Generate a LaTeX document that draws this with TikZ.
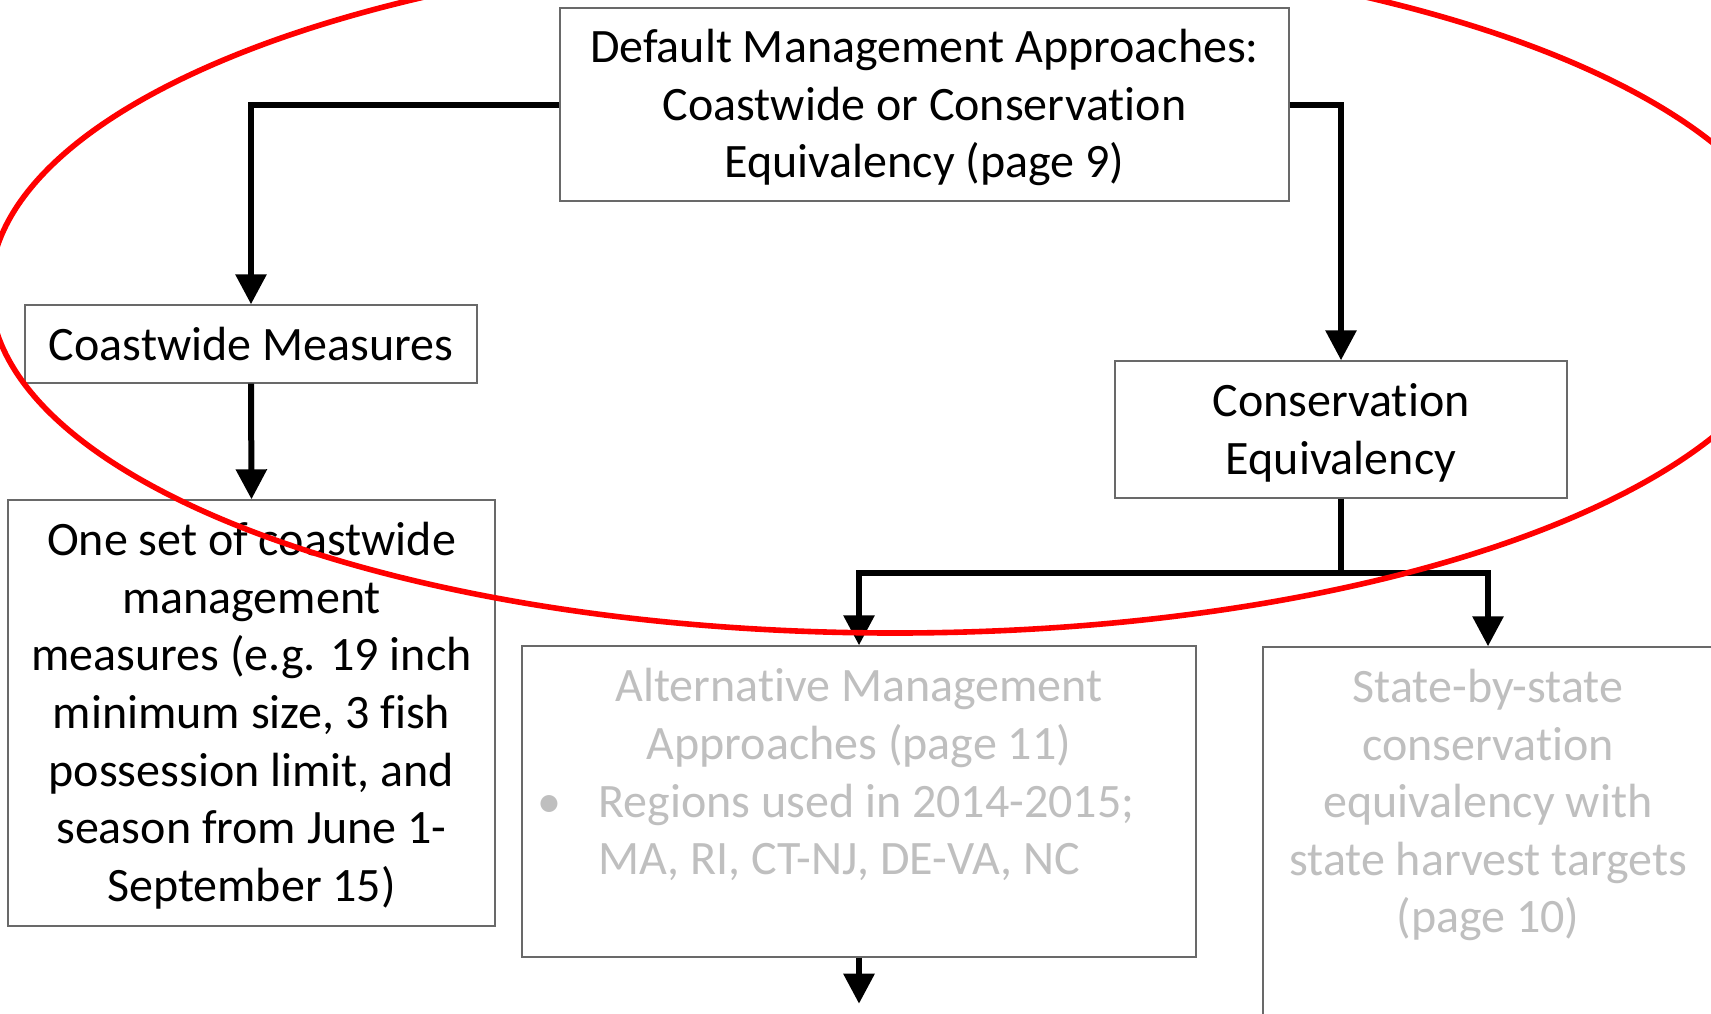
\documentclass[tikz,border=0pt]{standalone}
\usepackage{fontspec}
\setmainfont{Carlito}[Ligatures={NoCommon,NoContextual,NoRequired,NoRare}, Contextuals=NoAlternate]
\usetikzlibrary{arrows.meta,positioning}
\definecolor{boxline}{RGB}{105,105,105}
\definecolor{fadecol}{RGB}{191,191,191}
\newcommand{\nolig}{\kern0pt}
\tikzset{
	box/.style={draw=boxline, line width=0.7pt, inner sep=0pt},
	boxtext/.style={inner sep=0pt, align=center, anchor=base, font=\fontsize{24}{28.8}\selectfont},
	fadetext/.style={boxtext, text=fadecol},
	link/.style={line width=3pt, -{Triangle[width=15pt,length=15pt]}},
}
\begin{document}
\begin{tikzpicture}[x=0.5pt,y=-0.5pt]
		\useasboundingbox (0,0) rectangle (1711,1013);
		\clip (0,0) rectangle (1711,1013);
		\fill[white] (0,0) rectangle (1711,1013);
		\node[box, minimum width=364.5pt, minimum height=96.5pt] (default) at (924.5,104.5) {};
		\node[box, minimum width=226pt, minimum height=39pt] (coast) at (251,344) {};
		\node[box, minimum width=243.5pt, minimum height=213pt] (oneset) at (251.5,713) {};
		\node[box, minimum width=226pt, minimum height=68.5pt] (cons) at (1341,429.5) {};
		\node[box, minimum width=337pt, minimum height=155.5pt] (alt) at (859,801.5) {};
		\node[box, minimum width=225pt, minimum height=210pt] (state) at (1488,857) {};
		% texts sit on the baseline of their last line
		\node[boxtext] (defaulttext) at ([yshift=-85.3pt]default.north) {Default Management Approaches:\\Coastwide or Conservat\nolig ion\\Equivalency (page 9)};
		\node[boxtext] (coasttext) at ([yshift=-28.2pt]coast.north) {Coastwide Measures};
		\node[boxtext] (onesettext) at ([yshift=-201pt]oneset.north) {One set of coastwide\\management\\measures (e.g. 19 inch\\minimum size, 3 fish\\possession limit, and\\season from June 1-\\September 15)};
		\node[boxtext] (constext) at ([yshift=-57pt]cons.north) {Conservat\nolig ion\\Equivalency};
		\node[fadetext] (alttitle) at ([yshift=-56.9pt]alt.north) {Alternat\nolig ive Management\\Approaches (page 11)};
		\node[fadetext, anchor=base west, align=left] (altitem) at (598,874.8) {Regions used in 2014-2015;\\MA, RI, CT-NJ, DE-VA, NC};
		\node[fadetext] (altbullet) at (549,817.2) {•};
		\node[fadetext] (statetext) at ([yshift=-143.3pt]state.north) {State-by-state\\conservat\nolig ion\\equivalency with\\state harvest targets\\(page 10)};
		\draw[link] (default.west) -| (coast.north);
		\draw[link] (coast.south) -- (oneset.north);
		\draw[link] (default.east) -| (cons.north);
		\coordinate[below=37pt of cons.south] (fork);
		\draw[line width=3pt] (cons.south) -- (fork);
		\draw[link] (fork) -| (alt.north);
		\draw[link] (fork) -| (state.north);
		\coordinate[below=23pt of alt.south] (next);
		\draw[link] (alt.south) -- (next);
		\draw[red, line width=2.8pt] (895,290) ellipse [x radius=452.5pt, y radius=171.5pt];
	\end{tikzpicture}
\end{document}
